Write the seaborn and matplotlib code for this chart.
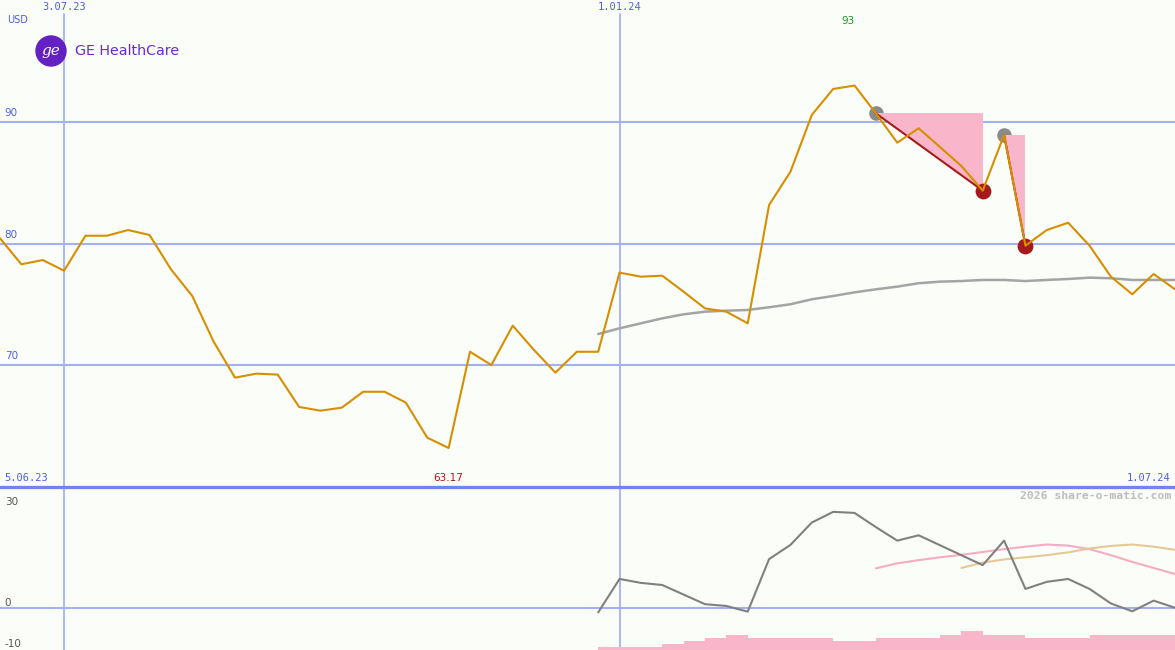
import numpy as np
import pandas as pd
import seaborn as sns
import matplotlib.pyplot as plt
import matplotlib.transforms as mtransforms
from matplotlib.patches import Circle

# weekly closes, GE HealthCare (USD)
weeks = pd.date_range("2023-06-12", periods=56, freq="7D")
price = [80.43, 78.29, 78.64, 77.76, 80.64, 80.64, 81.11, 80.70, 77.88, 75.68,
         71.92, 68.96, 69.29, 69.21, 66.55, 66.24, 66.49, 67.80, 67.80, 66.90,
         64.02, 63.17, 71.09, 70.00, 73.24, 71.23, 69.37, 71.09, 71.09, 77.60,
         77.27, 77.35, 76.03, 74.66, 74.39, 73.43, 83.17, 85.91, 90.58, 92.72,
         93.00, 90.71, 88.30, 89.48, 87.94, 86.38, 84.35, 88.93, 79.82, 81.11,
         81.71, 79.82, 77.27, 75.82, 77.49, 76.23]

# moving average, from week 28 on
ma_start = 28
ma = [72.55, 73.02, 73.43, 73.84, 74.17, 74.39, 74.47, 74.53, 74.75, 75.00,
      75.41, 75.68, 75.98, 76.23, 76.45, 76.73, 76.86, 76.91, 77.00, 77.00,
      76.91, 77.00, 77.08, 77.19, 77.14, 77.00, 77.00, 77.00]

# lower panel: oscillator, two signal curves, volume
osc = [-1.2, 8.2, 7.1, 6.5, 3.8, 1.1, 0.6, -1.0, 13.8, 17.8, 24.1, 27.1, 26.8,
       22.8, 19.0, 20.5, 17.7, 14.9, 12.1, 19.0, 5.4, 7.4, 8.2, 5.4, 1.3, -0.9,
       2.1, 0.1]
pink_start = 41
pink_sig = [11.2, 12.6, 13.5, 14.3, 15.0, 15.8, 16.6, 17.3, 17.9, 17.6, 16.6,
            14.9, 13.0, 11.3, 9.6]
tan_start = 45
tan_sig = [11.3, 12.8, 13.7, 14.3, 14.9, 15.7, 16.8, 17.5, 17.9, 17.3, 16.4]
volume = [1.0, 1.0, 1.0, 1.8, 2.7, 3.7, 4.5, 3.7, 3.7, 3.7, 3.7, 2.7, 2.7, 3.7,
          3.7, 3.7, 4.5, 5.7, 4.5, 4.5, 3.7, 3.7, 3.7, 4.5, 4.5, 4.5, 4.5, 4.5]

# drawdown pairs (peak week, trough week)
drops = [(41, 46), (47, 48)]

date_marks = ["2023-07-03", "2024-01-01"]
date_labels = ["3.07.23", "1.01.24"]
main_ticks = [90, 80, 70]
low_ticks = [30, 0, -10]

bg = "#fbfdf9"
grid = "#a3b1f2"
blue_txt = "#4f5fe6"
orange = "#d68f00"

sns.set_style("white", {"axes.facecolor": bg, "figure.facecolor": bg})
plt.rcParams['font.family'] = ['DejaVu Sans']

fig = plt.figure(figsize=(11.75, 6.5), dpi=100)
ax = fig.add_axes([0, 163 / 650, 1, 487 / 650])
ax2 = fig.add_axes([0, 0, 1, 163 / 650])

df = pd.DataFrame({"week": weeks, "price": price})
ma_df = pd.DataFrame({"week": weeks[ma_start:], "ma": ma})

for a in (ax, ax2):
    for s in a.spines.values():
        s.set_visible(False)
    a.set_xticks([])
    a.set_yticks([])
    a.set_xlim(weeks[0], weeks[-1])

ax.set_ylim(59.96, 100.04)
ax2.set_ylim(-11.8, 34.1)

# grid
for v in main_ticks:
    ax.axhline(v, color=grid, lw=1.5, zorder=0.5)
ax2.axhline(0, color=grid, lw=1.5, zorder=0.5)
for d in date_marks:
    ax.axvline(pd.Timestamp(d), ymax=1 - 14 / 487, color=grid, lw=1.3, zorder=0.5)
    ax2.axvline(pd.Timestamp(d), color=grid, lw=1.3, zorder=0.5)
ax2.axhline(34.1, color="#7384ee", lw=2.4, clip_on=False, zorder=5)

# drawdown markers
for p, t in drops:
    ax.scatter(weeks[p], price[p], s=110, color="#8a8a8a", zorder=1, linewidths=0)
    ax.fill([weeks[p], weeks[t], weeks[t]], [price[p], price[p], price[t]],
            color="#f9b5c9", lw=0, zorder=2)
    ax.plot([weeks[p], weeks[t]], [price[p], price[t]], color="#a51b1b", lw=1.5, zorder=3)
    ax.scatter(weeks[t], price[t], s=130, color="#a51b1b", zorder=3.5, linewidths=0)

sns.lineplot(data=ma_df, x="week", y="ma", ax=ax, color="#a4a4a4", lw=1.8, zorder=3)
sns.lineplot(data=df, x="week", y="price", ax=ax, color=orange, lw=1.5, zorder=4)
ax.set_xlabel("")
ax.set_ylabel("")

# labels main panel
lab_tr = mtransforms.blended_transform_factory(ax.transAxes, ax.transData)
for v in main_ticks:
    ax.text(0.004, v + 0.3, str(v), transform=lab_tr, color=blue_txt,
            fontsize=7.5, va="bottom", ha="left")
ax.text(0.006, 1 - 20 / 487, "USD", transform=ax.transAxes, color=blue_txt,
        fontsize=7, va="center", ha="left")
top_tr = mtransforms.blended_transform_factory(ax.transData, ax.transAxes)
for d, lab in zip(date_marks, date_labels):
    ax.text(pd.Timestamp(d), 1 - 2 / 487, lab, transform=top_tr, color=blue_txt,
            fontsize=7.5, family="DejaVu Sans Mono", va="top", ha="center")
ax.text(0.004, 4 / 487, "5.06.23", transform=ax.transAxes, color=blue_txt,
        fontsize=7.5, family="DejaVu Sans Mono", va="bottom", ha="left")
ax.text(0.996, 4 / 487, "1.07.24", transform=ax.transAxes, color=blue_txt,
        fontsize=7.5, family="DejaVu Sans Mono", va="bottom", ha="right")

hi = int(np.argmax(price))
lo = int(np.argmin(price))
ax.text(weeks[hi], 1 - 21 / 487, f"{price[hi]:g}", transform=top_tr, color="#1e9a1e",
        fontsize=7.5, va="center", ha="right")
ax.text(weeks[lo], 9 / 487, f"{price[lo]:.2f}", transform=top_tr, color="#a51b1b",
        fontsize=7.5, va="center", ha="center")

# logo
logo = Circle((0.51, 6.5 - 0.51), 0.15, transform=fig.dpi_scale_trans,
              color="#6321c4", zorder=6)
fig.add_artist(logo)
fig.text(51 / 1175, 1 - 51 / 650, "ge", color="white", fontsize=11, style="italic",
         family="DejaVu Serif", ha="center", va="center", zorder=7)
fig.text(75 / 1175, 1 - 51 / 650, "GE HealthCare", color="#6b2ad6", fontsize=10.3,
         ha="left", va="center")

# lower panel
sns.lineplot(x=weeks[ma_start:], y=osc, ax=ax2, color="#808080", lw=1.5, zorder=4)
sns.lineplot(x=weeks[pink_start:], y=pink_sig, ax=ax2, color="#f7abc4", lw=1.5, zorder=3)
sns.lineplot(x=weeks[tan_start:], y=tan_sig, ax=ax2, color="#e5c994", lw=1.5, zorder=3)
ax2.set_xlabel("")
ax2.set_ylabel("")

axv = ax2.twinx()
axv.fill_between(weeks[ma_start:], volume, step="post", color="#f9b5c9", lw=0)
axv.set_ylim(0, 49)
axv.set_xlim(weeks[0], weeks[-1])
axv.set_yticks([])
for s in axv.spines.values():
    s.set_visible(False)

low_tr = mtransforms.blended_transform_factory(ax2.transAxes, ax2.transData)
for v in low_ticks:
    ax2.text(0.004, v, str(v), transform=low_tr, color="#555555", fontsize=7.5,
             va="bottom" if v == 0 else "center", ha="left")
ax2.text(0.997, 1 - 9 / 163, "2026 share-o-matic.com", transform=ax2.transAxes,
         color="#bdbdbd", fontsize=8.2, family="DejaVu Sans Mono", weight="bold",
         va="center", ha="right")

fig.savefig("out.png", dpi=100, facecolor=bg)
